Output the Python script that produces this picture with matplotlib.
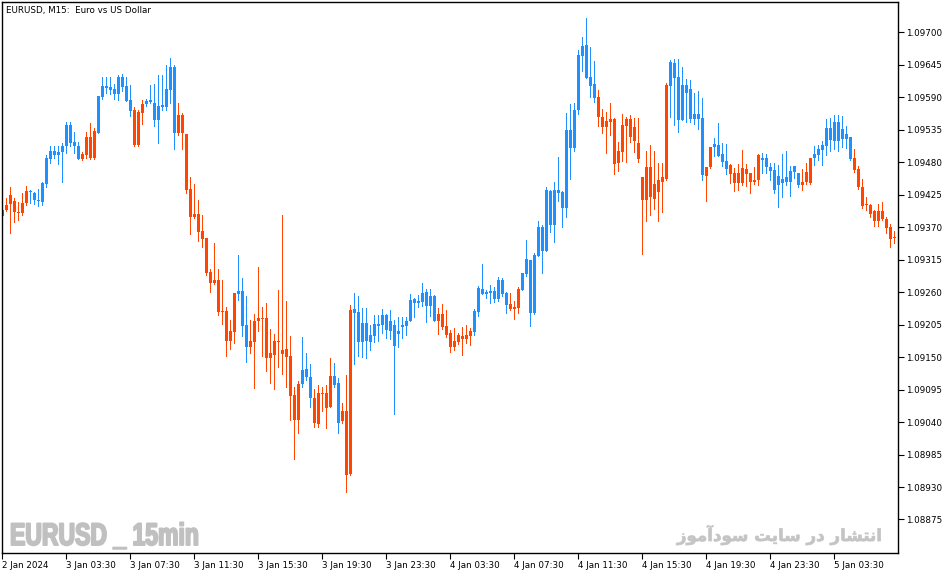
import numpy as np
import matplotlib.pyplot as plt
from matplotlib.patheffects import AbstractPathEffect
from matplotlib.transforms import Affine2D

# EURUSD M15 candles (one value per bar, left to right)
opens = [1.09399, 1.09408, 1.09425, 1.09414, 1.09396, 1.09411, 1.09431, 1.09429, 1.09416, 1.09415,
         1.09413, 1.09443, 1.09486, 1.09492, 1.09492, 1.09498, 1.09507, 1.09513, 1.09507, 1.09486,
         1.09494, 1.09523, 1.09523, 1.09533, 1.09530, 1.09591, 1.09606, 1.09603, 1.09596, 1.09596,
         1.09608, 1.09584, 1.09567, 1.09569, 1.09566, 1.09579, 1.09578, 1.09582, 1.09551, 1.09552,
         1.09574, 1.09574, 1.09603, 1.09530, 1.09560, 1.09560, 1.09528, 1.09435, 1.09392, 1.09392,
         1.09364, 1.09352, 1.09294, 1.09281, 1.09281, 1.09228, 1.09228, 1.09194, 1.09259, 1.09257,
         1.09203, 1.09168, 1.09177, 1.09211, 1.09216, 1.09216, 1.09216, 1.09157, 1.09177, 1.09177,
         1.09162, 1.09164, 1.09152, 1.09086, 1.09105, 1.09105, 1.09116, 1.09080, 1.09081, 1.09089,
         1.09088, 1.09089, 1.09118, 1.09103, 1.09039, 1.09058, 1.09059, 1.09230, 1.09224, 1.09176,
         1.09176, 1.09178, 1.09176, 1.09186, 1.09203, 1.09204, 1.09196, 1.09194, 1.09169, 1.09189,
         1.09201, 1.09203, 1.09211, 1.09242, 1.09242, 1.09243, 1.09237, 1.09237, 1.09211, 1.09223,
         1.09223, 1.09203, 1.09191, 1.09177, 1.09188, 1.09186, 1.09188, 1.09194, 1.09193, 1.09226,
         1.09257, 1.09257, 1.09259, 1.09249, 1.09249, 1.09257, 1.09238, 1.09240, 1.09235, 1.09265,
         1.09264, 1.09291, 1.09225, 1.09225, 1.09321, 1.09330, 1.09330, 1.09374, 1.09374, 1.09428,
         1.09403, 1.09403, 1.09505, 1.09505, 1.09569, 1.09660, 1.09623, 1.09609, 1.09589, 1.09591,
         1.09557, 1.09550, 1.09553, 1.09553, 1.09499, 1.09543, 1.09553, 1.09553, 1.09540, 1.09513,
         1.09455, 1.09472, 1.09472, 1.09443, 1.09450, 1.09455, 1.09611, 1.09609, 1.09623, 1.09552,
         1.09552, 1.09597, 1.09553, 1.09553, 1.09553, 1.09459, 1.09472, 1.09506, 1.09506, 1.09491,
         1.09481, 1.09469, 1.09475, 1.09462, 1.09462, 1.09470, 1.09469, 1.09462, 1.09450, 1.09492,
         1.09484, 1.09472, 1.09465, 1.09433, 1.09442, 1.09445, 1.09447, 1.09447, 1.09464, 1.09442,
         1.09447, 1.09464, 1.09487, 1.09487, 1.09492, 1.09501, 1.09508, 1.09518, 1.09516, 1.09516,
         1.09520, 1.09520, 1.09486, 1.09487, 1.09469, 1.09439, 1.09409, 1.09408, 1.09398, 1.09398,
         1.09398, 1.09384, 1.09370, 1.09352]

highs = [1.09403, 1.09419, 1.09439, 1.09420, 1.09413, 1.09428, 1.09440, 1.09433, 1.09430, 1.09435,
         1.09447, 1.09492, 1.09507, 1.09507, 1.09507, 1.09512, 1.09548, 1.09549, 1.09531, 1.09514,
         1.09498, 1.09531, 1.09547, 1.09539, 1.09592, 1.09625, 1.09625, 1.09625, 1.09612, 1.09628,
         1.09630, 1.09625, 1.09611, 1.09573, 1.09569, 1.09586, 1.09587, 1.09611, 1.09612, 1.09628,
         1.09628, 1.09645, 1.09657, 1.09645, 1.09580, 1.09564, 1.09528, 1.09455, 1.09443, 1.09416,
         1.09391, 1.09352, 1.09299, 1.09343, 1.09299, 1.09281, 1.09235, 1.09213, 1.09259, 1.09323,
         1.09284, 1.09254, 1.09213, 1.09223, 1.09303, 1.09235, 1.09242, 1.09198, 1.09189, 1.09264,
         1.09391, 1.09245, 1.09186, 1.09099, 1.09110, 1.09184, 1.09157, 1.09138, 1.09096, 1.09103,
         1.09100, 1.09103, 1.09149, 1.09140, 1.09115, 1.09073, 1.09120, 1.09238, 1.09259, 1.09254,
         1.09233, 1.09233, 1.09204, 1.09221, 1.09221, 1.09232, 1.09223, 1.09230, 1.09213, 1.09218,
         1.09218, 1.09218, 1.09257, 1.09250, 1.09255, 1.09276, 1.09265, 1.09265, 1.09255, 1.09233,
         1.09240, 1.09230, 1.09196, 1.09199, 1.09191, 1.09201, 1.09204, 1.09199, 1.09232, 1.09271,
         1.09308, 1.09264, 1.09272, 1.09269, 1.09286, 1.09284, 1.09260, 1.09259, 1.09245, 1.09269,
         1.09293, 1.09348, 1.09315, 1.09326, 1.09381, 1.09374, 1.09438, 1.09433, 1.09447, 1.09489,
         1.09431, 1.09564, 1.09579, 1.09580, 1.09670, 1.09692, 1.09725, 1.09675, 1.09652, 1.09603,
         1.09570, 1.09565, 1.09580, 1.09555, 1.09514, 1.09562, 1.09557, 1.09560, 1.09555, 1.09555,
         1.09455, 1.09499, 1.09509, 1.09499, 1.09479, 1.09479, 1.09614, 1.09653, 1.09655, 1.09655,
         1.09641, 1.09621, 1.09619, 1.09597, 1.09601, 1.09589, 1.09472, 1.09506, 1.09521, 1.09547,
         1.09513, 1.09511, 1.09477, 1.09470, 1.09477, 1.09501, 1.09477, 1.09462, 1.09472, 1.09494,
         1.09496, 1.09494, 1.09479, 1.09479, 1.09475, 1.09494, 1.09499, 1.09474, 1.09474, 1.09462,
         1.09469, 1.09479, 1.09487, 1.09508, 1.09509, 1.09516, 1.09553, 1.09555, 1.09560, 1.09560,
         1.09559, 1.09541, 1.09523, 1.09503, 1.09474, 1.09452, 1.09422, 1.09409, 1.09399, 1.09409,
         1.09413, 1.09387, 1.09376, 1.09364]

lows = [1.09374, 1.09398, 1.09361, 1.09379, 1.09382, 1.09391, 1.09408, 1.09411, 1.09409, 1.09406,
        1.09408, 1.09439, 1.09479, 1.09487, 1.09477, 1.09446, 1.09496, 1.09507, 1.09495, 1.09485,
        1.09484, 1.09487, 1.09486, 1.09486, 1.09530, 1.09588, 1.09597, 1.09596, 1.09588, 1.09586,
        1.09601, 1.09584, 1.09559, 1.09508, 1.09508, 1.09545, 1.09575, 1.09580, 1.09541, 1.09513,
        1.09569, 1.09569, 1.09580, 1.09503, 1.09526, 1.09503, 1.09428, 1.09359, 1.09386, 1.09347,
        1.09337, 1.09289, 1.09260, 1.09274, 1.09222, 1.09206, 1.09152, 1.09164, 1.09174, 1.09247,
        1.09185, 1.09141, 1.09157, 1.09098, 1.09195, 1.09152, 1.09127, 1.09106, 1.09096, 1.09134,
        1.09121, 1.09100, 1.09044, 1.08977, 1.09022, 1.09099, 1.09111, 1.09066, 1.09032, 1.09032,
        1.09058, 1.09030, 1.09065, 1.09099, 1.09022, 1.09038, 1.08922, 1.08950, 1.09138, 1.09152,
        1.09151, 1.09149, 1.09162, 1.09176, 1.09177, 1.09191, 1.09182, 1.09181, 1.09054, 1.09168,
        1.09182, 1.09188, 1.09211, 1.09218, 1.09235, 1.09237, 1.09210, 1.09220, 1.09211, 1.09189,
        1.09198, 1.09184, 1.09159, 1.09162, 1.09172, 1.09154, 1.09174, 1.09171, 1.09188, 1.09220,
        1.09257, 1.09250, 1.09242, 1.09243, 1.09245, 1.09254, 1.09225, 1.09230, 1.09215, 1.09225,
        1.09264, 1.09287, 1.09203, 1.09223, 1.09321, 1.09293, 1.09330, 1.09362, 1.09345, 1.09414,
        1.09370, 1.09387, 1.09451, 1.09500, 1.09562, 1.09635, 1.09623, 1.09591, 1.09582, 1.09541,
        1.09530, 1.09496, 1.09526, 1.09460, 1.09465, 1.09482, 1.09481, 1.09514, 1.09498, 1.09481,
        1.09325, 1.09381, 1.09391, 1.09401, 1.09381, 1.09396, 1.09450, 1.09557, 1.09543, 1.09531,
        1.09552, 1.09548, 1.09548, 1.09545, 1.09537, 1.09450, 1.09415, 1.09470, 1.09491, 1.09491,
        1.09474, 1.09460, 1.09445, 1.09431, 1.09433, 1.09442, 1.09440, 1.09428, 1.09443, 1.09442,
        1.09462, 1.09462, 1.09450, 1.09428, 1.09404, 1.09421, 1.09442, 1.09423, 1.09453, 1.09438,
        1.09433, 1.09443, 1.09443, 1.09475, 1.09484, 1.09475, 1.09492, 1.09499, 1.09503, 1.09499,
        1.09506, 1.09504, 1.09484, 1.09464, 1.09435, 1.09403, 1.09399, 1.09388, 1.09372, 1.09372,
        1.09382, 1.09360, 1.09337, 1.09343]

closes = [1.09389, 1.09399, 1.09409, 1.09396, 1.09395, 1.09394, 1.09411, 1.09430, 1.09428, 1.09416,
          1.09445, 1.09488, 1.09499, 1.09499, 1.09498, 1.09507, 1.09543, 1.09544, 1.09514, 1.09508,
          1.09486, 1.09492, 1.09488, 1.09488, 1.09592, 1.09609, 1.09609, 1.09607, 1.09604, 1.09625,
          1.09625, 1.09609, 1.09586, 1.09509, 1.09509, 1.09564, 1.09584, 1.09586, 1.09581, 1.09575,
          1.09577, 1.09604, 1.09642, 1.09642, 1.09530, 1.09529, 1.09433, 1.09388, 1.09387, 1.09362,
          1.09350, 1.09293, 1.09276, 1.09276, 1.09226, 1.09226, 1.09178, 1.09178, 1.09193, 1.09262,
          1.09262, 1.09204, 1.09168, 1.09176, 1.09212, 1.09215, 1.09149, 1.09149, 1.09154, 1.09176,
          1.09156, 1.09151, 1.09085, 1.09044, 1.09044, 1.09128, 1.09130, 1.09116, 1.09038, 1.09037,
          1.09087, 1.09064, 1.09066, 1.09118, 1.09106, 1.09041, 1.08950, 1.08952, 1.09232, 1.09226,
          1.09208, 1.09208, 1.09188, 1.09206, 1.09206, 1.09221, 1.09221, 1.09211, 1.09204, 1.09194,
          1.09204, 1.09211, 1.09247, 1.09249, 1.09245, 1.09259, 1.09260, 1.09254, 1.09254, 1.09211,
          1.09201, 1.09188, 1.09167, 1.09167, 1.09176, 1.09181, 1.09181, 1.09186, 1.09228, 1.09267,
          1.09265, 1.09260, 1.09262, 1.09262, 1.09281, 1.09281, 1.09259, 1.09232, 1.09232, 1.09233,
          1.09293, 1.09316, 1.09315, 1.09323, 1.09370, 1.09370, 1.09433, 1.09431, 1.09433, 1.09433,
          1.09430, 1.09535, 1.09535, 1.09569, 1.09662, 1.09677, 1.09679, 1.09625, 1.09613, 1.09557,
          1.09540, 1.09540, 1.09548, 1.09477, 1.09479, 1.09498, 1.09541, 1.09523, 1.09516, 1.09486,
          1.09416, 1.09416, 1.09422, 1.09418, 1.09429, 1.09447, 1.09452, 1.09650, 1.09648, 1.09625,
          1.09611, 1.09611, 1.09604, 1.09562, 1.09562, 1.09555, 1.09457, 1.09472, 1.09511, 1.09509,
          1.09494, 1.09482, 1.09460, 1.09445, 1.09445, 1.09445, 1.09460, 1.09447, 1.09447, 1.09450,
          1.09487, 1.09487, 1.09472, 1.09467, 1.09457, 1.09452, 1.09455, 1.09465, 1.09474, 1.09462,
          1.09442, 1.09447, 1.09445, 1.09494, 1.09503, 1.09509, 1.09538, 1.09538, 1.09548, 1.09548,
          1.09537, 1.09528, 1.09523, 1.09467, 1.09439, 1.09406, 1.09408, 1.09392, 1.09380, 1.09380,
          1.09384, 1.09369, 1.09350, 1.09351]

time_labels = ['2 Jan 2024', '3 Jan 03:30', '3 Jan 07:30', '3 Jan 11:30', '3 Jan 15:30',
               '3 Jan 19:30', '3 Jan 23:30', '4 Jan 03:30', '4 Jan 07:30', '4 Jan 11:30',
               '4 Jan 15:30', '4 Jan 19:30', '4 Jan 23:30', '5 Jan 03:30']
price_ticks = [1.09700, 1.09645, 1.09590, 1.09535, 1.09480, 1.09425, 1.09370, 1.09315,
               1.09260, 1.09205, 1.09150, 1.09095, 1.09040, 1.08985, 1.08930, 1.08875]

title = 'EURUSD, M15:  Euro vs US Dollar'
mark_left = 'EURUSD _ 15min'
# "انتشار در سایت سودآموز" written with Arabic presentation forms in display order
mark_right = '\uFEAF\uFEEE\uFEE3\uFE81\uFEA9\uFEEE\uFEB3 \uFE96\uFEF3\uFE8E\uFEB3 \uFEAD\uFEA9 \uFEAD\uFE8E\uFEB8\uFE98\uFEE7\uFE8D'

bull = '#1e90ff'
bear = '#ff4500'


class Squeeze(AbstractPathEffect):
    # narrows the glyphs horizontally around x0 (display px), like a condensed heavy font
    def __init__(self, sx, x0, stroke=0.0):
        super().__init__()
        self.sx = sx
        self.x0 = x0
        self.stroke = stroke

    def draw_path(self, renderer, gc, tpath, affine, rgbFace=None):
        squeeze = Affine2D().translate(-self.x0, 0).scale(self.sx, 1).translate(self.x0, 0)
        gc0 = renderer.new_gc()
        gc0.copy_properties(gc)
        if self.stroke > 0 and rgbFace is not None:
            gc0.set_linewidth(self.stroke)
            gc0.set_foreground(rgbFace)
        renderer.draw_path(gc0, tpath, affine + squeeze, rgbFace)
        gc0.restore()


o = np.array(opens)
h = np.array(highs)
l = np.array(lows)
c = np.array(closes)
x = np.arange(len(o))
cols = np.where(c >= o, bull, bear)

W, H = 951, 574
fig = plt.figure(figsize=(W / 100, H / 100), dpi=100)
ax = fig.add_axes([2 / W, 21 / H, 896 / W, 551 / H])

ax.vlines(x, l, h, colors=cols, linewidth=0.72, antialiased=False)
body_lo = np.minimum(o, c)
body_h = np.maximum(np.abs(c - o), 0.000017)
ax.bar(x, body_h, bottom=body_lo, width=0.75, color=cols, linewidth=0, antialiased=False)

ax.set_xlim(-0.075, 223.925)
ax.set_ylim(1.088182, 1.097516)

ax.yaxis.tick_right()
ax.set_yticks(price_ticks)
ax.set_yticklabels(['%.5f' % p for p in price_ticks])
ax.set_xticks(np.arange(0, 16 * len(time_labels), 16))
ax.set_xticklabels(time_labels, ha='left')
ax.tick_params(axis='both', direction='out', length=4, width=0.8, labelsize=6.3, color='black')
ax.tick_params(axis='y', pad=2)
ax.tick_params(axis='x', pad=1.5)
for s in ax.spines.values():
    s.set_linewidth(1.0)
    s.set_color('black')

fig.text(6 / W, 1 - 10 / H, title, fontsize=6.3, va='center', ha='left')
fig.text(10 / W, 1 - 545 / H, mark_left, fontsize=22.5, fontweight='bold', color='#c0c0c0',
         family=['Liberation Sans', 'DejaVu Sans'], va='baseline', ha='left',
         path_effects=[Squeeze(0.735, 10, stroke=1.4)])
fig.text(882 / W, 1 - 535 / H, mark_right, fontsize=12, fontweight='bold', color='#c4c4c4',
         family='DejaVu Sans', va='center', ha='right',
         path_effects=[Squeeze(1.0, 882, stroke=0.5)])

fig.savefig('out.png', dpi=100)
